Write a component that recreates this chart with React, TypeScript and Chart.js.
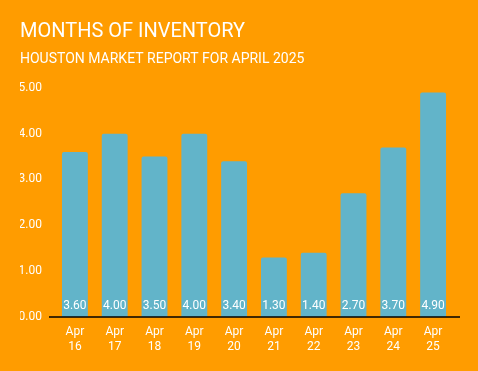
import React, { useEffect, useRef } from "react";
import { Chart, registerables } from "chart.js";

Chart.register(...registerables);

const categories: string[][] = [
  ["Apr", "16"], ["Apr", "17"], ["Apr", "18"], ["Apr", "19"], ["Apr", "20"],
  ["Apr", "21"], ["Apr", "22"], ["Apr", "23"], ["Apr", "24"], ["Apr", "25"],
];
const monthsOfInventory: number[] = [3.6, 4.0, 3.5, 4.0, 3.4, 1.3, 1.4, 2.7, 3.7, 4.9];
const titleText = "MONTHS OF INVENTORY";
const subtitleText = "HOUSTON MARKET REPORT FOR APRIL 2025";

const BG = "#FF9C00";
const BAR = "#62B4C9";

const bgAndLabels = {
  id: "bgAndLabels",
  beforeDraw(chart: any) {
    const { ctx, width, height } = chart;
    ctx.save();
    ctx.fillStyle = BG;
    ctx.fillRect(0, 0, width, height);
    ctx.restore();
  },
  afterDatasetsDraw(chart: any) {
    const { ctx, chartArea } = chart;
    const meta = chart.getDatasetMeta(0);
    ctx.save();
    ctx.fillStyle = "#ffffff";
    ctx.font = "12px Roboto";
    ctx.textAlign = "center";
    ctx.textBaseline = "middle";
    meta.data.forEach((bar: any, i: number) => {
      ctx.fillText(monthsOfInventory[i].toFixed(2), bar.x, chartArea.bottom - 11);
    });
    ctx.strokeStyle = "#000000";
    ctx.lineWidth = 1.5;
    ctx.beginPath();
    ctx.moveTo(chartArea.left - 6, chartArea.bottom);
    ctx.lineTo(chartArea.right + 7, chartArea.bottom);
    ctx.stroke();
    ctx.restore();
  },
};

export default function App() {
  const ref = useRef<HTMLCanvasElement | null>(null);
  useEffect(() => {
    document.body.style.margin = "0";
    Chart.defaults.font.family = "Roboto";
    const chart = new Chart(ref.current as HTMLCanvasElement, {
      type: "bar",
      data: {
        labels: categories,
        datasets: [
          {
            data: monthsOfInventory,
            backgroundColor: BAR,
            borderRadius: { topLeft: 2, topRight: 2, bottomLeft: 0, bottomRight: 0 },
            borderSkipped: "bottom",
            categoryPercentage: 1,
            barPercentage: 0.65,
          },
        ],
      },
      options: {
        responsive: false,
        animation: false,
        layout: { padding: { left: 20, right: 25, top: 0, bottom: 10 } },
        plugins: {
          legend: { display: false },
          tooltip: { enabled: false },
          title: {
            display: true,
            text: titleText,
            align: "start",
            color: "#ffffff",
            font: { size: 20, weight: "normal" },
            padding: { top: 20, bottom: 7 },
          },
          subtitle: {
            display: true,
            text: subtitleText,
            align: "start",
            color: "#ffffff",
            font: { size: 14, weight: "normal" },
            padding: { top: 0, bottom: 20 },
          },
        },
        scales: {
          x: {
            grid: { display: false, drawTicks: false },
            border: { display: false },
            ticks: {
              color: "#ffffff",
              font: { size: 12, lineHeight: 1.25 },
              padding: 7,
              maxRotation: 0,
              autoSkip: false,
            },
          },
          y: {
            min: 0,
            max: 5,
            afterFit: (s: any) => { s.width = 35; },
            grid: { display: false, drawTicks: false },
            border: { display: false },
            ticks: {
              stepSize: 1,
              color: "#ffffff",
              font: { size: 12 },
              padding: 13,
              callback: (v: any) => Number(v).toFixed(2),
            },
          },
        },
      },
      plugins: [bgAndLabels],
    });
    return () => chart.destroy();
  }, []);
  return (
    <div style={{ width: 478, height: 371 }}>
      <canvas ref={ref} width={478} height={371} />
    </div>
  );
}
